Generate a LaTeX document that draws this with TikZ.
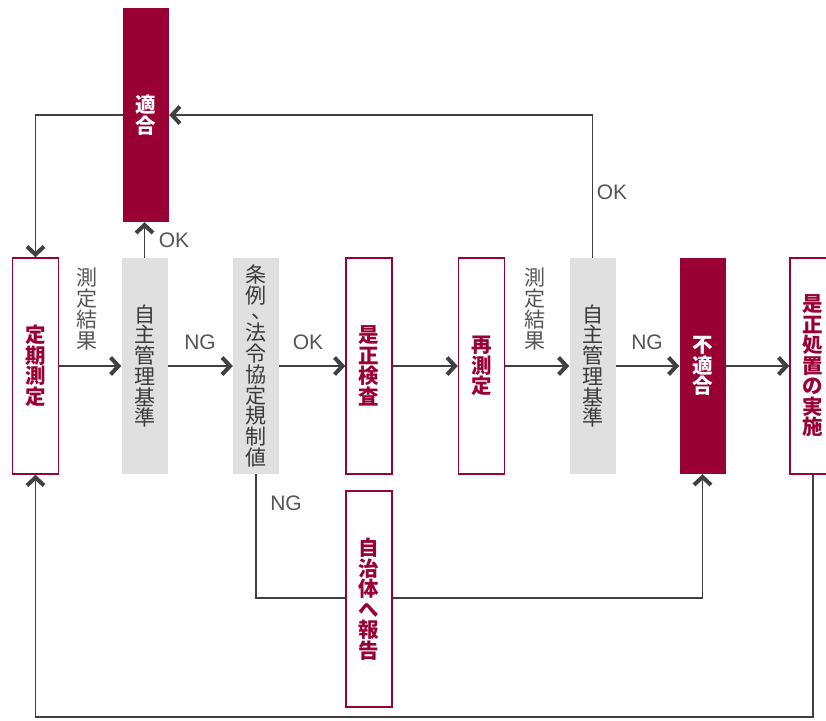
\documentclass[tikz,border=0pt]{standalone}
\usepackage{fontspec}
\setmainfont{Noto Sans CJK JP}
\newfontfamily\latinf{Liberation Sans}
\usetikzlibrary{arrows.meta}
\definecolor{crim}{HTML}{990033}
\definecolor{lgray}{HTML}{E0E0E0}
\definecolor{lineg}{HTML}{404040}
\definecolor{txtg}{HTML}{3A3A3A}
\definecolor{lblg}{HTML}{555555}
\pgfdeclarelayer{bg}
\pgfsetlayers{bg,main}
\begin{document}
\begin{tikzpicture}[x=1pt,y=-1pt,
  box/.style={rectangle, minimum width=46pt, minimum height=216pt, inner sep=0pt, align=center},
  outbox/.style={box, draw=crim, line width=1.5pt, fill=white, text=crim, font=\fontsize{20.5}{20.5}\selectfont\bfseries},
  fillbox/.style={box, fill=crim, text=white, font=\fontsize{20.5}{20.5}\selectfont\bfseries},
  graybox/.style={box, fill=lgray, text=txtg, font=\fontsize{21}{20.7}\selectfont},
  conn/.style={draw=lineg, line width=1.4pt},
  arr/.style={conn, -{Straight Barb[length=8pt,width=17pt,line width=4pt]}},
  lbl/.style={text=lblg, inner sep=0pt, font=\latinf\fontsize{21}{21}\selectfont},
  vlbl/.style={text=lblg, inner sep=0pt, align=center, font=\fontsize{21}{20.7}\selectfont}
]
\useasboundingbox (0,0) rectangle (826,720);
\clip (0,0) rectangle (826,720);

% nodes
\node[outbox]  (teiki)   at (35.5,366) {定\\期\\測\\定};
\node[graybox] (jishu1)  at (144.5,366) {自\\主\\管\\理\\基\\準};
\node[graybox] (jorei)   at (256,366) {条\\例\\[-6pt]\makebox[0pt][c]{\hspace{12pt}、}\\[2pt]法\\令\\協\\定\\規\\制\\値};
\node[outbox]  (zesei)   at (369,366) {是\\正\\検\\査};
\node[outbox]  (sai)     at (481.5,366) {再\\測\\定};
\node[graybox] (jishu2)  at (592.5,366) {自\\主\\管\\理\\基\\準};
\node[fillbox] (futeki)  at (702.5,366) {不\\適\\合};
\node[outbox]  (shochi)  at (813,366) {是\\正\\処\\置\\の\\実\\施};
\node[fillbox, minimum height=214pt] (tekigo) at (146,115) {適\\合};
\node[outbox]  (jichi)   at (369,599) {自\\治\\体\\へ\\報\\告};

\coordinate (nglow) at (0,598);
\coordinate (bot) at (0,717);

% labels
\node[vlbl] (lb1) at (87,309) {測\\定\\結\\果};
\node[vlbl] (lb2) at (535,309) {測\\定\\結\\果};
\node[lbl] (ng1) at (200,342) {NG};
\node[lbl] (ok1) at (308,342) {OK};
\node[lbl] (ng2) at (647,342) {NG};
\node[lbl] (ok2) at (174,240) {OK};
\node[lbl] (ok3) at (612,192) {OK};
\node[lbl] (ng3) at (286,503) {NG};

% connectors
\begin{pgfonlayer}{bg}
\draw[arr] (teiki.east) -- (jishu1.west);
\draw[arr] (jishu1.east) -- (jorei.west);
\draw[arr] (jorei.east) -- (zesei.west);
\draw[arr] (zesei.east) -- (sai.west);
\draw[arr] (sai.east) -- (jishu2.west);
\draw[arr] (jishu2.east) -- (futeki.west);
\draw[arr] (futeki.east) -- (shochi.west);
\draw[arr] (jishu1.north) -- (jishu1.north |- tekigo.south);
\draw[arr] (tekigo.west) -| (teiki.north);
\draw[arr] (jishu2.north) |- (tekigo.east);
\draw[arr] (jorei.south) -- (jorei.south |- nglow) -| (futeki.south);
\draw[arr] (shochi.south) -- (shochi.south |- bot) -| (teiki.south);
\end{pgfonlayer}
\end{tikzpicture}
\end{document}
